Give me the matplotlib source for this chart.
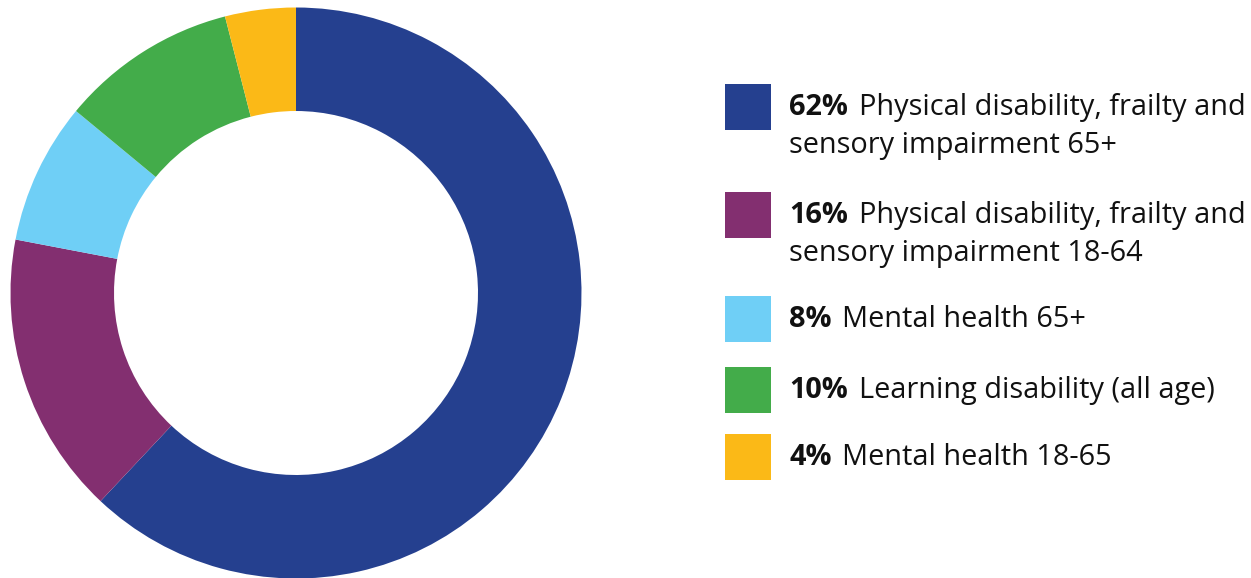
"""donut chart of care spend by client group"""

import matplotlib.pyplot as plt

W, H = 1251, 578

shares = [62, 16, 8, 10, 4]
pct_labels = ["62%", "16%", "8%", "10%", "4%"]
descriptions = [
    "Physical disability, frailty and\nsensory impairment 65+",
    "Physical disability, frailty and\nsensory impairment 18-64",
    "Mental health 65+",
    "Learning disability (all age)",
    "Mental health 18-65",
]
colors = ["#25408F", "#832F70", "#6FCFF6", "#43AC4A", "#FBB917"]

FONT = "Open Sans"
FSIZE = 20.8

fig = plt.figure(figsize=(W / 100, H / 100), dpi=100)

# donut, centre (296, 293) px, outer radius 285.5 px, inner 182 px
cx, cy, r = 296, 293, 285.5
ax = fig.add_axes([(cx - r) / W, (H - cy - r) / H, 2 * r / W, 2 * r / H])
ax.pie(shares, colors=colors, startangle=90, counterclock=False,
       radius=1.0, wedgeprops=dict(width=1 - 182 / 285.5, linewidth=0))
ax.set_xlim(-1, 1)
ax.set_ylim(-1, 1)
ax.axis("off")

# legend drawn in pixel coords
lax = fig.add_axes([0, 0, 1, 1])
lax.set_xlim(0, W)
lax.set_ylim(H, 0)
lax.axis("off")

box_tops = [84, 192, 296, 367, 434]
box_size = 46
line_gap = 38
text_x = 789

renderer = fig.canvas.get_renderer()
for top, col, pct, desc in zip(box_tops, colors, pct_labels, descriptions):
    lax.add_patch(plt.Rectangle((725, top), box_size, box_size, color=col, lw=0))
    base = top + box_size / 2 + 8
    lines = desc.split("\n")
    t = lax.text(text_x, base, pct, fontsize=FSIZE, fontweight="bold",
                 family=FONT, va="baseline", ha="left", color="#111111")
    bb = t.get_window_extent(renderer)
    lax.text(bb.x1 + 11, base, lines[0], fontsize=FSIZE, family=FONT,
             va="baseline", ha="left", color="#111111")
    for i, extra in enumerate(lines[1:], start=1):
        lax.text(text_x, base + i * line_gap, extra, fontsize=FSIZE, family=FONT,
                 va="baseline", ha="left", color="#111111")

plt.savefig("out.png", dpi=100)
plt.close()
